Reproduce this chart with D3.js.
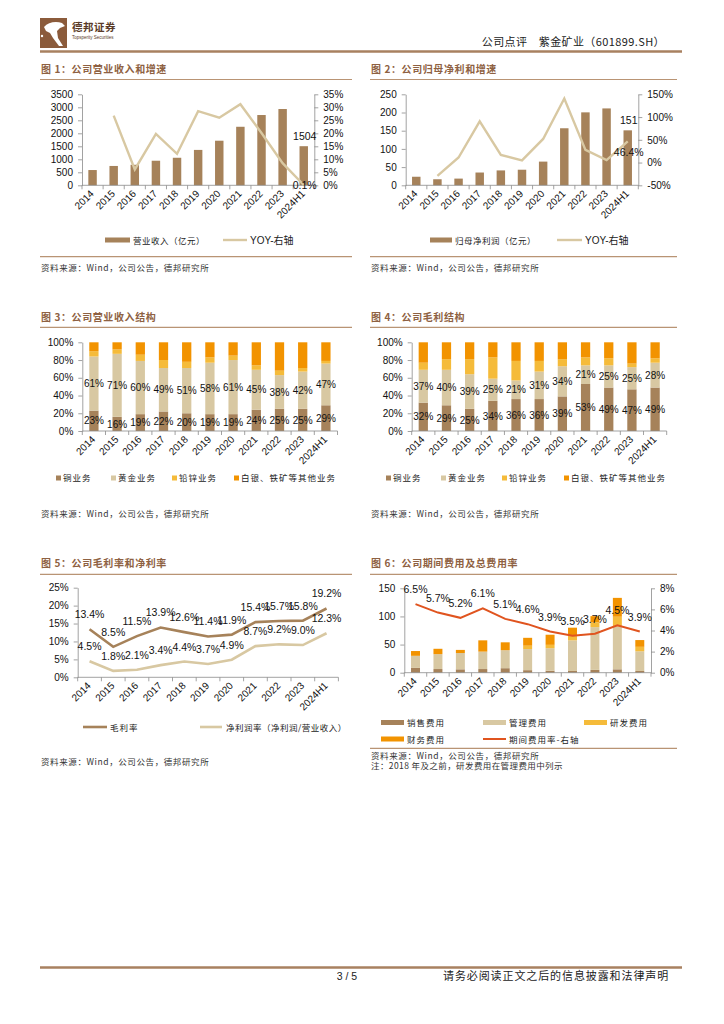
<!DOCTYPE html>
<html>
<head>
<meta charset="utf-8">
<script src="https://cdn.jsdelivr.net/npm/d3@7"></script>
<style>
  body { margin: 0; background: #fff; }
  svg { display: block; }
</style>
</head>
<body>
<svg id="page" width="724" height="1024"></svg>
<script>
// 数据
let years = ['2014', '2015', '2016', '2017', '2018', '2019', '2020', '2021', '2022', '2023', '2024H1']

// 图1 营业收入（亿元）及增速（%）
let revenue = [587, 744, 789, 945, 1059, 1361, 1715, 2251, 2703, 2934, 1504]
let revenueYoy = [null, 26.8, 6.1, 19.8, 12.1, 28.5, 26.0, 31.2, 20.1, 8.5, 0.1]

// 图2 归母净利润（亿元）及增速（%）
let netProfit = [23.5, 16.6, 18.4, 35.1, 40.9, 42.8, 65.1, 156.7, 200.4, 211.2, 151]
let netProfitYoy = [null, -29.4, 11.1, 90.6, 16.7, 4.6, 51.9, 140.8, 27.9, 5.4, 46.4]

// 图3 营业收入结构（%）
let copperRev = [23, 16, 19, 22, 20, 19, 19, 24, 25, 25, 29]
let goldRev = [61, 71, 60, 49, 51, 58, 61, 45, 38, 42, 47]
let leadZincRev = [6, 5, 7, 9, 7, 6, 5, 5, 5, 4, 3]
let otherRev = [10, 8, 14, 20, 22, 17, 15, 26, 32, 29, 21]

// 图4 毛利结构（%）
let copperGp = [32, 29, 25, 34, 36, 36, 39, 53, 49, 47, 49]
let goldGp = [37, 40, 39, 25, 21, 31, 34, 21, 25, 25, 28]
let leadZincGp = [8, 12, 17, 24, 22, 12, 8, 9, 8, 4, 5]
let otherGp = [23, 19, 19, 17, 21, 21, 19, 17, 18, 24, 18]

// 图5 毛利率、净利率（%）
let grossMargin = [13.4, 8.5, 11.5, 13.9, 12.6, 11.4, 11.9, 15.4, 15.7, 15.8, 19.2]
let netMargin = [4.5, 1.8, 2.1, 3.4, 4.4, 3.7, 4.9, 8.7, 9.2, 9.0, 12.3]

// 图6 期间费用（亿元）及费用率（%）
let salesExp = [8.5, 6.5, 6, 6.5, 8, 4.5, 3.5, 3, 5, 6, 3]
let adminExp = [21.5, 26.5, 29, 31, 32, 37.5, 40, 54.5, 76, 76, 35]
let rdExp = [0, 0, 0, 0, 0, 6, 6, 8.5, 8.5, 17.5, 8]
let finExp = [8.5, 9.5, 5.5, 20, 14, 14, 18, 14, 11, 33.5, 12]
let expRatio = [6.5, 5.7, 5.2, 6.1, 5.1, 4.6, 3.9, 3.5, 3.7, 4.5, 3.9]

let revStructNames = ['铜业务', '黄金业务', '铅锌业务', '白银、铁矿等其他业务']
let gpStructNames = ['铜业务', '黄金业务', '铅锌业务', '白银、铁矿等其他业务']
let expNames = ['销售费用', '管理费用', '研发费用', '财务费用']

// 样式
let numFont = '"Liberation Sans", Arial, sans-serif'
let cnFont = '"Noto Sans CJK SC", sans-serif'
let brown = '#A6825A'
let beige = '#D8C8A2'
let yellow = '#F5BB3A'
let orange = '#F29300'
let titleColor = '#8E6142'
let ruleColor = '#B99474'
let axisColor = '#8a8a8a'

let svg = d3.select('#page')

drawHeader()
drawChart1()
drawChart2()
drawChart3()
drawChart4()
drawChart5()
drawChart6()
drawFooter()

function txt (x, y, s, opt) {
  opt = opt || {}
  return svg.append('text')
    .attr('x', x).attr('y', y)
    .attr('font-family', opt.font || cnFont)
    .attr('font-size', opt.size || 9)
    .attr('font-weight', opt.weight || 'normal')
    .attr('fill', opt.fill || '#222')
    .attr('text-anchor', opt.anchor || 'start')
    .attr('letter-spacing', opt.ls || 0)
    .text(s)
}

function rule (x1, x2, y, w, c) {
  svg.append('line')
    .attr('x1', x1).attr('x2', x2).attr('y1', y).attr('y2', y)
    .attr('stroke', c || ruleColor).attr('stroke-width', w || 1.2)
}

function title (x, y, s) {
  txt(x, y, s, { size: 10, weight: 'bold', fill: titleColor, ls: 0.6 })
}

function source (x, y) {
  txt(x, y, '资料来源：Wind，公司公告，德邦研究所', { size: 8.5, fill: '#333', ls: 0.6 })
}

// 纵轴
function yAxis (scale, x, side, fmt, ticks) {
  let axis = side === 'left' ? d3.axisLeft(scale) : d3.axisRight(scale)
  axis.tickValues(ticks).tickFormat(fmt).tickSize(4).tickSizeOuter(0).tickPadding(5)
  let g = svg.append('g').attr('transform', `translate(${x},0)`).call(axis)
  g.selectAll('path, line').attr('stroke', axisColor).attr('stroke-width', 0.8)
  g.selectAll('text').attr('font-family', numFont).attr('font-size', 10).attr('fill', '#111')
  return g
}

// 横轴：刻度在类别边界，标签旋转 -45 度
function xAxis (xs, y) {
  let r = xs.range()
  let step = xs.step()
  let g = svg.append('g')
  g.append('line')
    .attr('x1', r[0]).attr('x2', r[1]).attr('y1', y).attr('y2', y)
    .attr('stroke', axisColor).attr('stroke-width', 0.8)
  g.selectAll('.tk').data(d3.range(xs.domain().length + 1)).enter()
    .append('line')
    .attr('x1', (d) => r[0] + d * step).attr('x2', (d) => r[0] + d * step)
    .attr('y1', y).attr('y2', y + 4)
    .attr('stroke', axisColor).attr('stroke-width', 0.8)
  g.selectAll('.lb').data(xs.domain()).enter()
    .append('text')
    .attr('x', (d) => xs(d) + xs.bandwidth() / 2 + 2)
    .attr('y', y + 9)
    .attr('transform', (d) => `rotate(-45, ${xs(d) + xs.bandwidth() / 2 + 2}, ${y + 9})`)
    .attr('text-anchor', 'end')
    .attr('font-family', numFont)
    .attr('font-size', 10)
    .attr('fill', '#111')
    .text((d) => d)
}

function band (x0, x1, pad) {
  return d3.scaleBand().domain(years).range([x0, x1]).paddingInner(pad).paddingOuter(pad / 2)
}

function cx (xs, i) {
  return xs(years[i]) + xs.bandwidth() / 2
}

function drawHeader () {
  // logo
  svg.append('rect').attr('x', 40).attr('y', 18).attr('width', 27).attr('height', 30).attr('fill', '#8B5B3B')
  svg.append('path')
    .attr('d', 'M44,27 C48,22 56,21 62,23 L65,26 L60,28 L57,31 L58,38 L63,46 L59,46 L53,38 L50,33 L46,31 Z')
    .attr('fill', '#fff')
  svg.append('circle').attr('cx', 42).attr('cy', 36).attr('r', 1.2).attr('fill', '#fff')
  txt(72, 31, '德邦证券', { size: 10.5, weight: 'bold', fill: '#5a3b28', ls: 0.5 })
  txt(72, 39, 'Topsperity Securities', { size: 4.5, font: numFont, fill: '#5a3b28' })
  txt(665, 46, '公司点评　紫金矿业（601899.SH）', { size: 11, anchor: 'end', fill: '#222', ls: 0.4 })
  rule(40, 682, 51.5, 2.5, '#A88160')
}

function drawFooter () {
  rule(40, 682, 967.5, 2.5, '#A88160')
  txt(347, 980, '3 / 5', { size: 10.5, font: numFont, anchor: 'middle', fill: '#222' })
  txt(443, 980, '请务必阅读正文之后的信息披露和法律声明', { size: 11, fill: '#222', ls: 0.9 })
}

function barLineChart (o) {
  title(o.x0 + 1, 73, o.title)
  rule(o.x0, o.x1, 79.5)
  let xs = band(o.left, o.right, 0.6)
  let yl = d3.scaleLinear().domain(o.lDomain).range([185.3, 94.3])
  let yr = d3.scaleLinear().domain(o.rDomain).range([185.3, 94.3])
  yAxis(yl, o.left, 'left', (d) => d, o.lTicks)
  yAxis(yr, o.right, 'right', (d) => d + '%', o.rTicks)

  svg.append('g').selectAll('rect').data(o.bars).enter()
    .append('rect')
    .attr('x', (d, i) => xs(years[i]))
    .attr('width', xs.bandwidth())
    .attr('y', (d) => yl(d))
    .attr('height', (d) => yl(0) - yl(d))
    .attr('fill', brown)

  xAxis(xs, yl(o.lDomain[0]))

  let line = d3.line()
    .defined((d) => d != null)
    .x((d, i) => cx(xs, i))
    .y((d) => yr(d))
  svg.append('path')
    .datum(o.yoy)
    .attr('d', line)
    .attr('fill', 'none')
    .attr('stroke', beige)
    .attr('stroke-width', 2.4)

  let last = years.length - 1
  txt(cx(xs, last) + 1, yl(o.bars[last]) - 6, o.barLabel, { size: 10.5, font: numFont, anchor: 'middle', fill: '#111' })
  txt(cx(xs, last) + 1, yr(o.yoy[last]) + o.yoyDy, o.yoy[last].toFixed(1) + '%', { size: 10.5, font: numFont, anchor: 'middle', fill: '#111' })

  // 图例
  let lg = o.legend
  svg.append('rect').attr('x', lg[0]).attr('y', 237.5).attr('width', lg[1] - lg[0]).attr('height', 5).attr('fill', brown)
  txt(lg[1] + 3, 243.5, o.barName, { size: 8.5, ls: 0.5 })
  rule(lg[2], lg[3], 240, 2.4, beige)
  txt(lg[3] + 3, 243.8, 'YOY-右轴', { size: 10, font: numFont + ', ' + cnFont })

  rule(o.x0, o.x1, 256.7)
  source(o.x0 + 1, 271)
}

function drawChart1 () {
  barLineChart({
    title: '图 1：公司营业收入和增速',
    x0: 40, x1: 352, left: 82, right: 314.3,
    lDomain: [0, 3500], lTicks: d3.range(0, 3501, 500),
    rDomain: [0, 35], rTicks: d3.range(0, 36, 5),
    bars: revenue, yoy: revenueYoy, barLabel: '1504', yoyDy: 4,
    barName: '营业收入（亿元）',
    legend: [105, 130, 223, 247]
  })
}

function drawChart2 () {
  barLineChart({
    title: '图 2：公司归母净利和增速',
    x0: 370, x1: 677, left: 405.7, right: 638.3,
    lDomain: [0, 250], lTicks: d3.range(0, 251, 50),
    rDomain: [-50, 150], rTicks: d3.range(-50, 151, 50),
    bars: netProfit, yoy: netProfitYoy, barLabel: '151', yoyDy: 15,
    barName: '归母净利润（亿元）',
    legend: [430, 452, 557, 582]
  })
}

function stackChart (o) {
  title(o.x0 + 1, 320.5, o.title)
  rule(o.x0, o.x1, 327.3)
  let xs = band(o.left, o.right, 0.6)
  let ys = d3.scaleLinear().domain([0, 100]).range([431, 342.3])
  yAxis(ys, o.left, 'left', (d) => d + '%', d3.range(0, 101, 20))

  let keys = ['a', 'b', 'c', 'd']
  let rows = years.map((y, i) => ({ year: y, a: o.series[0][i], b: o.series[1][i], c: o.series[2][i], d: o.series[3][i] }))
  let stacked = d3.stack().keys(keys)(rows)
  let colors = [brown, beige, yellow, orange]

  svg.append('g').selectAll('g').data(stacked).enter()
    .append('g').attr('fill', (d, i) => colors[i])
    .selectAll('rect').data((d) => d).enter()
    .append('rect')
    .attr('x', (d) => xs(d.data.year))
    .attr('width', xs.bandwidth())
    .attr('y', (d) => ys(d[1]))
    .attr('height', (d) => ys(d[0]) - ys(d[1]))

  xAxis(xs, 431)

  // 铜、黄金数据标签，居中于分段
  stacked.slice(0, 2).forEach((s) => {
    svg.append('g').selectAll('text').data(s).enter()
      .append('text')
      .attr('x', (d) => xs(d.data.year) + xs.bandwidth() / 2)
      .attr('y', (d) => (ys(d[0]) + ys(d[1])) / 2 + 3.6)
      .attr('text-anchor', 'middle')
      .attr('font-family', numFont)
      .attr('font-size', 10)
      .attr('fill', '#111')
      .text((d) => (d[1] - d[0]) + '%')
  })

  o.names.forEach((n, i) => {
    svg.append('rect').attr('x', o.legend[i]).attr('y', 475.5).attr('width', 5).attr('height', 5).attr('fill', colors[i])
    txt(o.legend[i] + 7, 481, n, { size: 8.5, ls: 1 })
  })
  source(o.x0 + 1, 517)
}

function drawChart3 () {
  stackChart({
    title: '图 3：公司营业收入结构',
    x0: 40, x1: 352, left: 82.3, right: 337.5,
    series: [copperRev, goldRev, leadZincRev, otherRev],
    names: revStructNames,
    legend: [56, 111, 172, 234]
  })
}

function drawChart4 () {
  stackChart({
    title: '图 4：公司毛利结构',
    x0: 370, x1: 677, left: 411.7, right: 666.7,
    series: [copperGp, goldGp, leadZincGp, otherGp],
    names: gpStructNames,
    legend: [386, 441, 502, 564]
  })
}

function drawChart5 () {
  title(41, 567, '图 5：公司毛利率和净利率')
  rule(40, 352, 574.3)
  let xs = band(77.7, 338.4, 0.6)
  let ys = d3.scaleLinear().domain([0, 25]).range([677.3, 587.7])
  yAxis(ys, 77.7, 'left', (d) => d + '%', d3.range(0, 26, 5))
  xAxis(xs, 677.3)

  let line = d3.line().x((d, i) => cx(xs, i)).y((d) => ys(d))
  let series = [[grossMargin, brown], [netMargin, beige]]
  series.forEach((s) => {
    svg.append('path').datum(s[0]).attr('d', line)
      .attr('fill', 'none').attr('stroke', s[1]).attr('stroke-width', 2.6)
  })
  series.forEach((s) => {
    svg.append('g').selectAll('text').data(s[0]).enter()
      .append('text')
      .attr('x', (d, i) => cx(xs, i))
      .attr('y', (d) => ys(d) - 11)
      .attr('text-anchor', 'middle')
      .attr('font-family', numFont)
      .attr('font-size', 10.5)
      .attr('fill', '#111')
      .text((d) => d.toFixed(1) + '%')
  })

  // 图例，放在旋转标签下方
  rule(83, 107, 727, 2.6, brown)
  txt(110, 730.5, '毛利率', { size: 8.5, ls: 1 })
  rule(200, 222, 727, 2.6, beige)
  txt(226, 730.5, '净利润率（净利润/营业收入）', { size: 8.5, ls: 0.5 })
  source(41, 765)
}

function drawChart6 () {
  title(371, 567, '图 6：公司期间费用及总费用率')
  rule(370, 677, 574.3)
  let xs = band(404.3, 651, 0.6)
  let yl = d3.scaleLinear().domain([0, 150]).range([672.7, 588.3])
  let yr = d3.scaleLinear().domain([0, 8]).range([672.7, 588.3])
  yAxis(yl, 404.3, 'left', (d) => d, d3.range(0, 151, 50))
  yAxis(yr, 651, 'right', (d) => d + '%', d3.range(0, 9, 2))

  let rows = years.map((y, i) => ({ year: y, s: salesExp[i], a: adminExp[i], r: rdExp[i], f: finExp[i] }))
  let stacked = d3.stack().keys(['s', 'a', 'r', 'f'])(rows)
  let colors = [brown, beige, yellow, orange]
  svg.append('g').selectAll('g').data(stacked).enter()
    .append('g').attr('fill', (d, i) => colors[i])
    .selectAll('rect').data((d) => d).enter()
    .append('rect')
    .attr('x', (d) => xs(d.data.year))
    .attr('width', xs.bandwidth())
    .attr('y', (d) => yl(d[1]))
    .attr('height', (d) => yl(d[0]) - yl(d[1]))

  xAxis(xs, 672.7)

  let line = d3.line().x((d, i) => cx(xs, i)).y((d) => yr(d))
  svg.append('path').datum(expRatio).attr('d', line)
    .attr('fill', 'none').attr('stroke', '#E0541F').attr('stroke-width', 2)
  svg.append('g').selectAll('text').data(expRatio).enter()
    .append('text')
    .attr('x', (d, i) => cx(xs, i))
    .attr('y', (d) => yr(d) - 11)
    .attr('text-anchor', 'middle')
    .attr('font-family', numFont)
    .attr('font-size', 10.5)
    .attr('fill', '#111')
    .text((d) => d.toFixed(1) + '%')

  // 图例
  let pos = [[381, 722.5], [483, 722.5], [584, 722.5], [381, 739]]
  expNames.forEach((n, i) => {
    svg.append('rect').attr('x', pos[i][0]).attr('y', pos[i][1] - 2.5).attr('width', 23).attr('height', 5).attr('fill', colors[i])
    txt(pos[i][0] + 26, pos[i][1] + 3.5, n, { size: 8.5, ls: 1 })
  })
  rule(483, 506, 739, 2, '#E0541F')
  txt(509, 742.5, '期间费用率-右轴', { size: 8.5, ls: 1 })

  rule(370, 677, 748.3)
  source(371, 758.5)
  txt(371, 769, '注：2018 年及之前，研发费用在管理费用中列示', { size: 8.5, fill: '#333', ls: 0.4 })
}
</script>
</body>
</html>
